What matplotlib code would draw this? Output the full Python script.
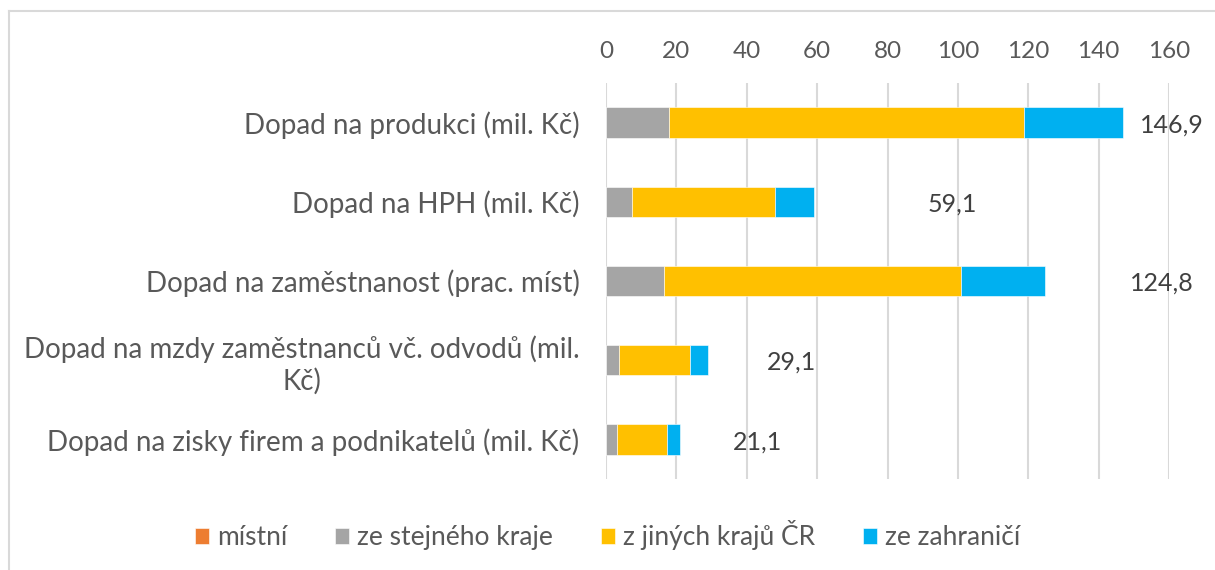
import numpy as np
import matplotlib.pyplot as plt
from matplotlib.lines import Line2D

plt.rcParams['font.family'] = ['Lato', 'DejaVu Sans']

# data
kategorie = ['Dopad na produkci (mil. Kč)',
             'Dopad na HPH (mil. Kč)',
             'Dopad na zaměstnanost (prac. míst)',
             'Dopad na mzdy zaměstnanců vč. odvodů (mil.\nKč)',
             'Dopad na zisky firem a podnikatelů (mil. Kč)']
mistni = [0.0, 0.0, 0.0, 0.0, 0.0]
stejny_kraj = [17.9, 7.5, 16.5, 3.8, 3.0]
jine_kraje = [100.9, 40.4, 84.5, 20.1, 14.2]
zahranici = [28.1, 11.2, 23.8, 5.2, 3.9]
celkem = ['146,9', '59,1', '124,8', '29,1', '21,1']
# kde Excel umístil popisky součtů (v jednotkách osy x)
popisky_x = [160.8, 98.3, 158.0, 52.8, 43.0]

nazvy = ['místní', 'ze stejného kraje', 'z jiných krajů ČR', 'ze zahraničí']
barvy = ['#ED7D31', '#A5A5A5', '#FFC000', '#00B0F0']

fig = plt.figure(figsize=(12.15, 5.70), dpi=100)
ax = fig.add_axes([606 / 1215, 1 - 479 / 570, (1169 - 606) / 1215, (479 - 83) / 570])

y = np.arange(len(kategorie))
left = np.zeros(len(kategorie))
for serie, nazev, barva in zip([mistni, stejny_kraj, jine_kraje, zahranici], nazvy, barvy):
    ax.barh(y, serie, left=left, height=0.385, color=barva, label=nazev,
            edgecolor='white', linewidth=0.4, zorder=3)
    left = left + np.array(serie)

for i in range(len(kategorie)):
    ax.text(popisky_x[i], y[i] + 0.03, celkem[i], ha='center', va='center',
            fontsize=18, color='#404040', clip_on=False)

ax.set_xlim(0, 160)
ax.set_ylim(4.5, -0.5)
ax.set_xticks(np.arange(0, 161, 20))
ax.xaxis.tick_top()
ax.grid(axis='x', color='#D9D9D9', linewidth=1.5, zorder=0)
ax.set_yticks(y)
ax.set_yticklabels(kategorie, multialignment='center')
ax.tick_params(axis='x', length=0, pad=15, labelsize=17.5, labelcolor='#595959')
ax.tick_params(axis='y', length=0, pad=19, labelsize=20, labelcolor='#595959')
for s in ax.spines.values():
    s.set_visible(False)

leg = fig.legend(loc='center', bbox_to_anchor=(0.5, 1 - 535 / 570), ncol=4, frameon=False,
                 fontsize=19, handlelength=0.55, handleheight=0.55, handletextpad=0.3,
                 columnspacing=1.8, labelcolor='#595959')

# rámeček grafu
fig.add_artist(Line2D([9 / 1215, 9 / 1215], [0, 1 - 11 / 570], color='#D9D9D9', linewidth=1.5))
fig.add_artist(Line2D([9 / 1215, 1], [1 - 11 / 570, 1 - 11 / 570], color='#D9D9D9', linewidth=1.5))

fig.savefig('out.png', dpi=100)
